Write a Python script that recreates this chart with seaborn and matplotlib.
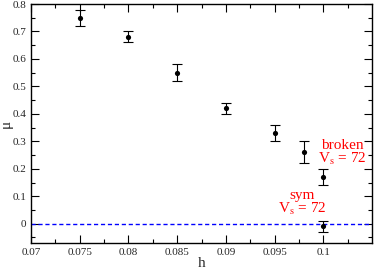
import numpy as np
import pandas as pd
import seaborn as sns
import matplotlib.pyplot as plt

# broken phase points
h_broken = [0.075, 0.08, 0.085, 0.09, 0.095, 0.098, 0.1]
mu_broken = [0.75, 0.68, 0.55, 0.42, 0.33, 0.26, 0.17]
err_broken = [0.03, 0.02, 0.03, 0.02, 0.03, 0.04, 0.03]

# symmetric phase point
h_sym = [0.1]
mu_sym = [-0.01]
err_sym = [0.02]

x_ticks = [0.07, 0.075, 0.08, 0.085, 0.09, 0.095, 0.1]
x_tick_labels = ["0.07", "0.075", "0.08", "0.085", "0.09", "0.095", "0.1"]
y_ticks = [0, 0.1, 0.2, 0.3, 0.4, 0.5, 0.6, 0.7, 0.8]
y_tick_labels = ["0", "0.1", "0.2", "0.3", "0.4", "0.5", "0.6", "0.7", "0.8"]

df = pd.DataFrame({"h": h_broken + h_sym, "mu": mu_broken + mu_sym,
                   "err": err_broken + err_sym})

sns.set_style("ticks")
plt.rcParams['font.family'] = ['Liberation Serif', 'DejaVu Serif']
plt.rcParams['mathtext.fontset'] = 'stix'

fig = plt.figure(figsize=(3.74, 2.69), dpi=100)
ax = fig.add_axes([0.083, 0.097, 0.912, 0.888])

ax.axhline(0, color='blue', ls=(0, (3, 2)), lw=1.0, zorder=1)
ax.errorbar(df["h"], df["mu"], yerr=df["err"], fmt='none', ecolor='black',
            elinewidth=0.8, capsize=3.5, capthick=0.8, zorder=2)
sns.scatterplot(data=df, x="h", y="mu", color='black', s=14, edgecolor='black',
                linewidth=0, ax=ax, zorder=3)

ax.set_xlim(0.07, 0.105)
ax.set_ylim(-0.07, 0.8)
ax.set_xticks(x_ticks)
ax.set_xticklabels(x_tick_labels)
ax.set_yticks(y_ticks)
ax.set_yticklabels(y_tick_labels)
ax.set_xticks(np.arange(0.0725, 0.105, 0.005), minor=True)
ax.set_yticks(np.arange(-0.05, 0.8, 0.1), minor=True)
ax.tick_params(which='both', direction='in', top=True, right=True,
               labelsize=8, width=0.8, color='black')
ax.tick_params(which='major', length=6)
ax.tick_params(which='minor', length=3)
for sp in ax.spines.values():
    sp.set_linewidth(1.0)
    sp.set_color('black')

ax.set_xlabel("h", fontsize=11, labelpad=0)
ax.set_ylabel("μ", fontsize=11, labelpad=0)

ax.text(0.1019, 0.258, "broken\n" + r"V$_{\rm s}$ = 72", color='red', fontsize=11,
        ha='center', va='center', linespacing=0.95)
ax.text(0.0978, 0.076, "sym\n" + r"V$_{\rm s}$ = 72", color='red', fontsize=11,
        ha='center', va='center', linespacing=0.95)

fig.savefig("out.png", dpi=100)
